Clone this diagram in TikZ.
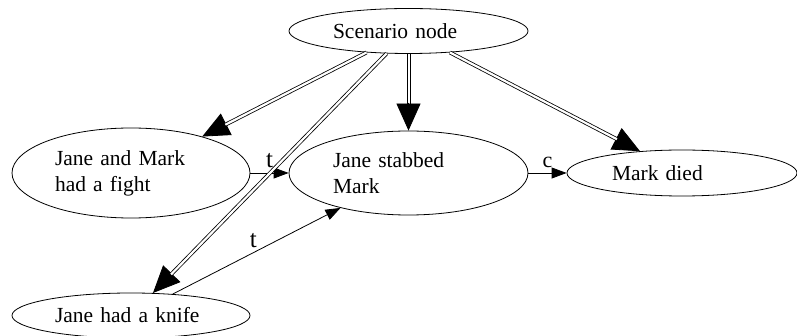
\documentclass[tikz,border=0pt]{standalone}
\usepackage{fontspec}
\setmainfont{Liberation Serif}
\usetikzlibrary{shapes.geometric,arrows.meta}
\begin{document}
\begin{tikzpicture}[x=1pt,y=-1pt,
  ell/.style={draw, ellipse, line width=0.8pt, inner sep=0pt, align=left,
    font=\fontsize{21.5}{26}\selectfont},
  thinedge/.style={line width=0.8pt, -{Triangle[length=15pt,width=11pt]}},
  bigtip/.style={line width=0.8pt, -{Triangle[length=27pt,width=24pt]}},
  dbl/.style={line width=0.8pt, double, double distance=2.2pt, shorten >=26pt},
  rail/.style={line width=0.8pt},
  lbl/.style={font=\fontsize{25}{26}\selectfont, above, inner sep=5pt},
  lblc/.style={font=\fontsize{22}{26}\selectfont, above, inner sep=5pt}]
\useasboundingbox (0,0) rectangle (797,336);
\node[ell, minimum width=239pt, minimum height=45pt, text width=151pt] (sc) at (408.5,31) {Scenario node};
\node[ell, minimum width=238pt, minimum height=90pt, text width=152pt] (jm) at (131,173) {Jane and Mark\\had a fight};
\node[ell, minimum width=239pt, minimum height=84pt, text width=151pt] (js) at (408.5,173) {Jane stabbed\\Mark};
\node[ell, minimum width=230pt, minimum height=46pt, text width=140pt] (md) at (682,173) {Mark died};
\node[ell, minimum width=238pt, minimum height=45pt, text width=152pt] (jk) at (131,315.5) {Jane had a knife};
% thin edges
\draw[thinedge] (jm) -- node[lbl] {t} (js);
\draw[thinedge] (jk) -- node[lbl, pos=0.48] {t} (js);
\draw[thinedge] (js) -- node[lblc] {c} (md);
% double edges
\draw[bigtip] (sc) -- (jm);
\draw[dbl] (sc) -- (jm);
\draw[bigtip] ([yshift=28pt]js.north) -- (js.north);
\draw[rail] ([xshift=-1.5pt]sc.south) -- ([xshift=-1.5pt,yshift=26pt]js.north);
\draw[rail] ([xshift=1.5pt]sc.south) -- ([xshift=1.5pt,yshift=26pt]js.north);
\draw[bigtip] (sc) -- (md);
\draw[dbl] (sc) -- (md);
\draw[bigtip] (sc) -- (jk);
\draw[dbl] (sc) -- (jk);
\end{tikzpicture}
\end{document}
